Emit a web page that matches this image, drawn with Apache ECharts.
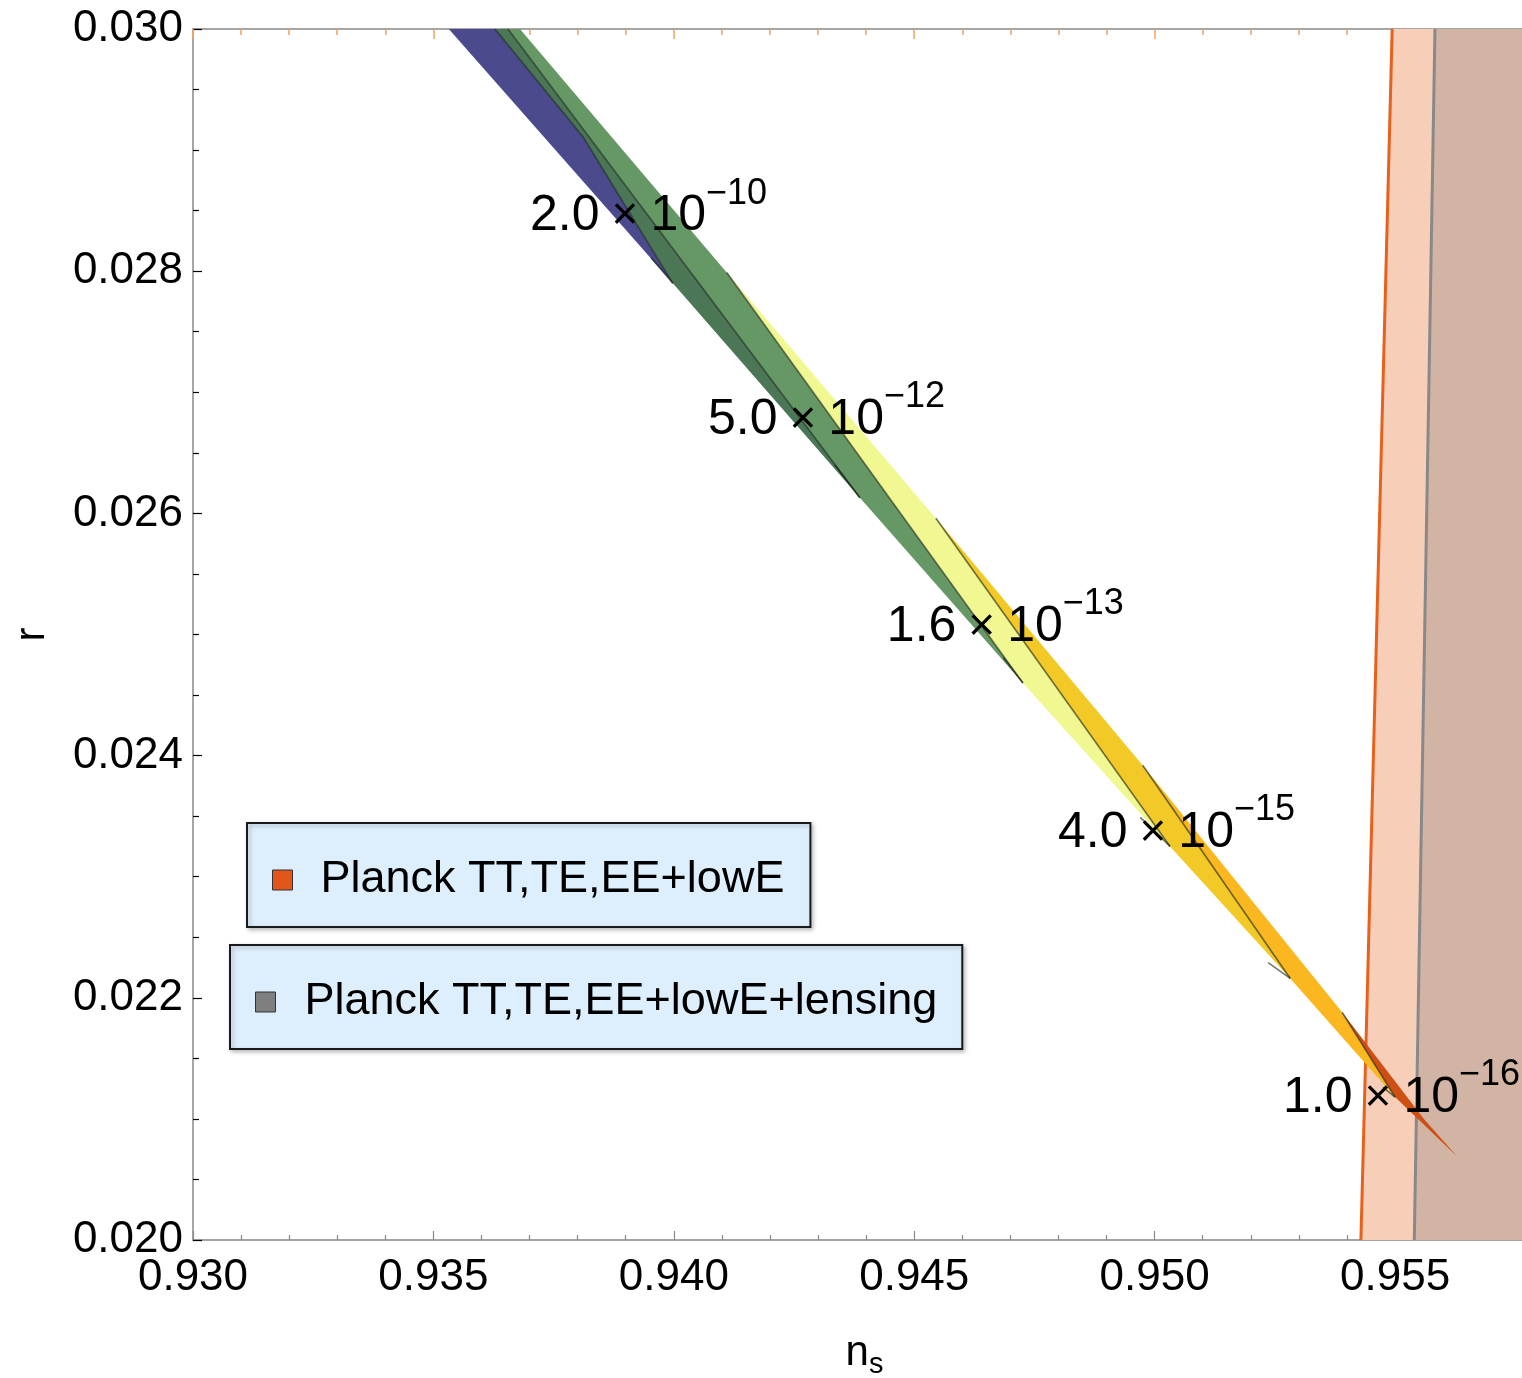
<!DOCTYPE html>
<html>
<head>
<meta charset="utf-8">
<script src="https://cdn.jsdelivr.net/npm/echarts@6/dist/echarts.min.js"></script>
<style>html,body{margin:0;padding:0;background:#fff}#chart{width:1522px;height:1378px}</style>
</head>
<body>
<div id="chart"></div>
<script>
// ---------------- data ----------------
const xTicks = [0.930, 0.935, 0.940, 0.945, 0.950, 0.955];
const yTicks = [0.020, 0.022, 0.024, 0.026, 0.028, 0.030];

// coloured regions (n_s, r) vertices
const bandBlue       = [[0.93532,0.0300],[0.93628,0.0300],[0.93811,0.02911],[0.93998,0.02790]];
const bandDarkGreen  = [[0.93628,0.0300],[0.93655,0.0300],[0.94387,0.02613],[0.93998,0.02790],[0.93811,0.02911]];
const bandLightGreen = [[0.93655,0.0300],[0.93680,0.0300],[0.94110,0.02799],[0.94726,0.02460],[0.94387,0.02613]];
const bandPaleYellow = [[0.94110,0.02799],[0.94545,0.02596],[0.95032,0.02325],[0.94726,0.02460]];
const bandGold       = [[0.94545,0.02596],[0.94975,0.02392],[0.95282,0.02216],[0.95032,0.02325]];
const bandAmber      = [[0.94975,0.02392],[0.95390,0.02188],[0.95500,0.02118],[0.95282,0.02216]];
const bandRed        = [[0.95390,0.02188],[0.95560,0.02100],[0.95629,0.02069],[0.95500,0.02118]];

// dark contour lines
const contour1 = [[0.93628,0.0300],[0.93811,0.02911],[0.93998,0.02790]];
const contour2 = [[0.93655,0.0300],[0.94387,0.02613]];
const contour3 = [[0.94110,0.02799],[0.94726,0.02460]];
const contour4 = [[0.94545,0.02596],[0.95032,0.02325]];
const contour5 = [[0.94975,0.02392],[0.95282,0.02216]];
const contour6 = [[0.95390,0.02188],[0.95500,0.02118]];

// short contour hooks at the band tips
const hookBlue   = [[0.93953,0.02811],[0.93998,0.02790]];
const hookDark   = [[0.94335,0.02640],[0.94387,0.02613]];
const hookGreen  = [[0.94685,0.02481],[0.94726,0.02460]];
const hookYellow = [[0.94970,0.02349],[0.95032,0.02325]];
const hookGold   = [[0.95236,0.02229],[0.95282,0.02216]];
const hookAmber  = [[0.95475,0.02126],[0.95500,0.02118]];

// Planck boundaries
const planckLowENs = [0.95494, 0.95429];
const planckLensNs = [0.95583, 0.95540];
const planckR      = [0.030, 0.020];
const planckRightNs = 0.960;

// value labels
const labelNs = [0.93701, 0.94071, 0.94443, 0.94799, 0.95267];
const labelR  = [0.02845, 0.02677, 0.02506, 0.02336, 0.02117];
const labelMantissa = ['2.0', '5.0', '1.6', '4.0', '1.0'];
const labelExponent = ['\u221210', '\u221212', '\u221213', '\u221215', '\u221216'];

const legendNames = ['Planck TT,TE,EE+lowE', 'Planck TT,TE,EE+lowE+lensing'];

// ---------------- chart ----------------
const FONT = "'Liberation Sans', Arial, Helvetica, sans-serif";
const chart = echarts.init(document.getElementById('chart'), null, {renderer: 'canvas'});

function polySeries(name, pts, color, z) {
  return {
    type: 'custom', name: name, coordinateSystem: 'cartesian2d', clip: true, silent: true,
    z: z, data: pts, encode: {x: 0, y: 1},
    renderItem: function (params, api) {
      if (params.dataIndex !== 0) return null;
      const points = pts.map(function (p) { return api.coord(p); });
      return {type: 'polygon', shape: {points: points}, style: {fill: color, stroke: null}};
    }
  };
}
function lineSeries(pts, color, width, z) {
  return {
    type: 'line', data: pts, showSymbol: false, symbol: 'none', silent: true, z: z,
    lineStyle: {color: color, width: width}, clip: true
  };
}

const lowEPoly = [[planckLowENs[0], planckR[0]], [planckRightNs, planckR[0]], [planckRightNs, planckR[1]], [planckLowENs[1], planckR[1]]];
const lensPoly = [[planckLensNs[0], planckR[0]], [planckRightNs, planckR[0]], [planckRightNs, planckR[1]], [planckLensNs[1], planckR[1]]];

const contourColor = 'rgba(20,30,20,0.6)';

const labelData = labelNs.map(function (x, i) { return [x, labelR[i], i]; });

const series = [
  polySeries(legendNames[0], lowEPoly, '#F7CEB7', 1),
  polySeries(legendNames[1], lensPoly, '#D2B4A4', 1),
  lineSeries([[planckLowENs[0], planckR[0]], [planckLowENs[1], planckR[1]]], '#E8611C', 3, 2),
  lineSeries([[planckLensNs[0], planckR[0]], [planckLensNs[1], planckR[1]]], '#898989', 3, 2),
  polySeries('blue', bandBlue, '#4B4A8D', 3),
  polySeries('darkGreen', bandDarkGreen, '#4B7757', 3),
  polySeries('lightGreen', bandLightGreen, '#669866', 3),
  polySeries('paleYellow', bandPaleYellow, '#F2F891', 3),
  polySeries('gold', bandGold, '#F2C926', 3),
  polySeries('amber', bandAmber, '#FBB71F', 3),
  polySeries('red', bandRed, '#CD4F14', 3)
].concat([contour1, contour2, contour3, contour4, contour5, contour6,
          hookBlue, hookDark, hookGreen, hookYellow, hookGold, hookAmber].map(function (c) {
  return lineSeries(c, contourColor, 1.6, 4);
})).concat([{
    type: 'custom', coordinateSystem: 'cartesian2d', silent: true, z: 6, clip: false,
    data: labelData, encode: {x: 0, y: 1},
    renderItem: function (params, api) {
      const i = params.dataIndex;
      const p = api.coord([api.value(0), api.value(1)]);
      return {
        type: 'text', x: p[0], y: p[1],
        style: {
          text: '{m|' + labelMantissa[i] + '}{t|\u00d7}{b|10}{e|' + labelExponent[i] + '}',
          align: 'left', verticalAlign: 'middle', fill: '#000', fontFamily: FONT, fontSize: 50,
          rich: {
            m: {fontSize: 50, fontFamily: FONT, fill: '#000'},
            t: {fontSize: 46, fontFamily: FONT, fill: '#000', padding: [0, 12, 0, 12]},
            b: {fontSize: 50, fontFamily: FONT, fill: '#000'},
            e: {fontSize: 36, fontFamily: FONT, fill: '#000', verticalAlign: 'top', padding: [0, 0, 46, 0]}
          }
        }
      };
    }
}]);

function legendCfg(i, left, top, padLeft, padRight, textPad, color) {
  return {
    data: [{name: legendNames[i], icon: 'rect', itemStyle: {color: color, borderColor: '#333', borderWidth: 1}}],
    left: left, top: top, orient: 'horizontal', selectedMode: false,
    padding: [32, padRight, 22, padLeft],
    backgroundColor: '#DDEEFC', borderColor: '#1a1a1a', borderWidth: 2,
    shadowBlur: 4, shadowColor: 'rgba(0,0,0,0.25)', shadowOffsetX: 2, shadowOffsetY: 2,
    itemWidth: 20, itemHeight: 20,
    textStyle: {fontSize: 45, fontFamily: FONT, color: '#000', lineHeight: 50, padding: [0, 0, 0, textPad]}
  };
}

const axisFont = {fontSize: 44, fontFamily: FONT, color: '#000'};

chart.setOption({
  animation: false,
  backgroundColor: '#fff',
  grid: {left: 193, right: 0, top: 29, bottom: 138, containLabel: false, outerBoundsMode: 'none'},
  legend: [
    legendCfg(0, 247, 823, 25, 26, 23, '#E2561A'),
    legendCfg(1, 230, 945, 25, 25, 24, '#7F7F7F')
  ],
  xAxis: [{
    type: 'value', position: 'bottom', min: xTicks[0], max: 0.95764, interval: 0.005,
    axisLine: {lineStyle: {color: '#888', width: 1.5}},
    axisTick: {inside: true, length: 9, lineStyle: {color: '#888', width: 1.2}},
    minorTick: {show: true, splitNumber: 5, length: 5, lineStyle: {color: '#888', width: 1.2}},
    splitLine: {show: false}, minorSplitLine: {show: false},
    axisLabel: Object.assign({margin: 16, showMaxLabel: false,
      formatter: function (v) { return xTicks.some(function (t) { return Math.abs(t - v) < 1e-9; }) ? v.toFixed(3) : ''; }}, axisFont),
    name: '{n|n}{s|s}', nameLocation: 'middle', nameGap: 88,
    nameTextStyle: {padding: [0, 0, 0, 14], rich: {
      n: {fontSize: 42, fontFamily: FONT, color: '#000'},
      s: {fontSize: 29, fontFamily: FONT, color: '#000', padding: [22, 0, 0, 0]}
    }}
  }, {
    type: 'value', position: 'top', min: xTicks[0], max: 0.95764, interval: 0.005,
    axisLine: {lineStyle: {color: '#888', width: 1.5}},
    axisTick: {inside: true, length: 10, lineStyle: {color: '#F5A25E', width: 1.5}},
    minorTick: {show: true, splitNumber: 5, length: 6, lineStyle: {color: '#F5A25E', width: 1.5}},
    splitLine: {show: false}, axisLabel: {show: false}
  }],
  yAxis: [{
    type: 'value', min: yTicks[0], max: yTicks[yTicks.length - 1], interval: 0.002,
    axisLine: {lineStyle: {color: '#888', width: 1.5}},
    axisTick: {inside: true, length: 9, lineStyle: {color: '#000', width: 1.2}},
    minorTick: {show: true, splitNumber: 4, length: 6, lineStyle: {color: '#000', width: 1.2}},
    splitLine: {show: false}, minorSplitLine: {show: false},
    axisLabel: Object.assign({margin: 10, formatter: function (v) { return v.toFixed(3); }}, axisFont),
    name: 'r', nameLocation: 'middle', nameGap: 140,
    nameTextStyle: {fontSize: 42, fontFamily: FONT, color: '#000'}
  }],
  series: series
});
</script>
</body>
</html>
